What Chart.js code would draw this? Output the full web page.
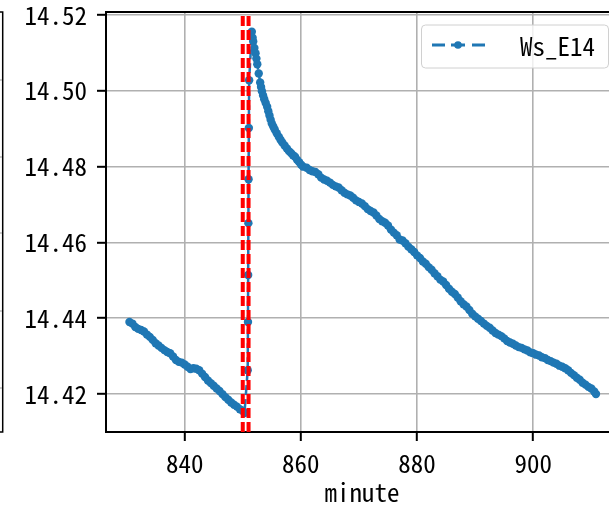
<!DOCTYPE html>
<html>
<head>
<meta charset="utf-8">
<script src="https://cdn.jsdelivr.net/npm/chart.js@4.4.0/dist/chart.umd.min.js"></script>
<style>
  html, body { margin: 0; padding: 0; background: #fff; overflow: hidden; }
  #wrap { width: 609px; height: 506px; overflow: hidden; }
  canvas { display: block; }
</style>
</head>
<body>
<div id="wrap"><canvas id="wsChart" width="622" height="506"></canvas></div>
<script>
// minute stamps and the Ws_E14 readings
const minutes = [
  830.5, 831.0, 831.5, 832.0, 832.5, 833.0, 833.5, 834.0, 834.5, 835.0,
  835.5, 836.0, 836.5, 837.0, 837.5, 838.0, 838.5, 839.0, 839.5, 840.0,
  840.5, 841.0, 841.5, 842.0, 842.5, 843.0, 843.5, 844.0, 844.5, 845.0,
  845.5, 846.0, 846.5, 847.0, 847.5, 848.0, 848.5, 849.0, 849.5, 850.0,
  850.3, 850.85, 850.9, 850.93, 850.97, 851.0, 851.05, 851.1,
  851.56, 851.7, 851.8, 852.0, 852.2, 852.35, 852.5, 852.75, 853.0, 853.15,
  853.3, 853.5, 853.7, 853.95, 854.2, 854.4, 854.6, 854.8, 855.0, 855.25,
  855.5, 855.85, 856.2, 856.5, 856.8, 857.2, 857.6, 857.95, 858.3, 858.65,
  859.0, 859.35, 859.7, 860.05, 860.4,
  861.0, 861.5, 862.0, 862.5, 863.0, 863.5, 864.0, 864.5, 865.0, 865.5,
  866.0, 866.5, 867.0, 867.5, 868.0, 868.5, 869.0, 869.5, 870.0, 870.5,
  871.0, 871.5, 872.0, 872.5, 873.0, 873.5, 874.0, 874.5, 875.0, 875.5,
  876.0, 876.5, 877.0, 877.5, 878.0, 878.5, 879.0, 879.5, 880.0, 880.5,
  881.0, 881.5, 882.0, 882.5, 883.0, 883.5, 884.0, 884.5, 885.0, 885.5,
  886.0, 886.5, 887.0, 887.5, 888.0, 888.5, 889.0, 889.5, 890.0, 890.5,
  891.0, 891.5, 892.0, 892.5, 893.0, 893.5, 894.0, 894.5, 895.0, 895.5,
  896.0, 896.5, 897.0, 897.5, 898.0, 898.5, 899.0, 899.5, 900.0, 900.5,
  901.0, 901.5, 902.0, 902.5, 903.0, 903.5, 904.0, 904.5, 905.0, 905.5,
  906.0, 906.5, 907.0, 907.5, 908.0, 908.5, 909.0, 909.5, 910.0, 910.5, 910.8
];
const wsValues = [
  14.4390, 14.4386, 14.4377, 14.4372, 14.4369, 14.4365, 14.4357, 14.4351, 14.4343, 14.4334,
  14.4328, 14.4322, 14.4316, 14.4311, 14.4308, 14.4299, 14.4290, 14.4285, 14.4283, 14.4278,
  14.4272, 14.4266, 14.4268, 14.4267, 14.4263, 14.4254, 14.4245, 14.4236, 14.4229, 14.4222,
  14.4215, 14.4208, 14.4200, 14.4192, 14.4185, 14.4178, 14.4172, 14.4167, 14.4160, 14.4156,
  14.4150, 14.4263, 14.4390, 14.4514, 14.4651, 14.4767, 14.4902, 14.5028,
  14.5156, 14.5140, 14.5130, 14.5113, 14.5099, 14.5085, 14.5070, 14.5046, 14.5022, 14.5010,
  14.4999, 14.4988, 14.4978, 14.4968, 14.4958, 14.4946, 14.4935, 14.4924, 14.4914, 14.4906,
  14.4898, 14.4888, 14.4879, 14.4871, 14.4864, 14.4856, 14.4848, 14.4841, 14.4836, 14.4830,
  14.4826, 14.4818, 14.4812, 14.4805, 14.4800,
  14.4797, 14.4791, 14.4788, 14.4786, 14.4780, 14.4771, 14.4766, 14.4763, 14.4758, 14.4752,
  14.4748, 14.4745, 14.4738, 14.4731, 14.4727, 14.4724, 14.4718, 14.4711, 14.4707, 14.4703,
  14.4696, 14.4688, 14.4683, 14.4679, 14.4671, 14.4662, 14.4656, 14.4652, 14.4645, 14.4634,
  14.4626, 14.4619, 14.4608, 14.4605, 14.4598, 14.4589, 14.4582, 14.4575, 14.4566, 14.4559,
  14.4550, 14.4544, 14.4535, 14.4528, 14.4519, 14.4511, 14.4502, 14.4497, 14.4488, 14.4478,
  14.4470, 14.4464, 14.4455, 14.4445, 14.4437, 14.4431, 14.4422, 14.4412, 14.4405, 14.4399,
  14.4393, 14.4386, 14.4380, 14.4375, 14.4368, 14.4361, 14.4357, 14.4353, 14.4347, 14.4340,
  14.4336, 14.4333, 14.4328, 14.4324, 14.4322, 14.4318, 14.4315, 14.4310, 14.4308, 14.4304,
  14.4302, 14.4297, 14.4295, 14.4290, 14.4287, 14.4283, 14.4280, 14.4275, 14.4272, 14.4268,
  14.4263, 14.4256, 14.4250, 14.4243, 14.4238, 14.4230, 14.4225, 14.4219, 14.4215, 14.4207, 14.4200
];
const eventMinutes = [850, 851];
const xTicks = [840, 860, 880, 900];
const yTicks = [14.42, 14.44, 14.46, 14.48, 14.50, 14.52];
const seriesLabel = "Ws_E14";
const xTitle = "minute";

const FONT = "'Noto Sans Mono CJK SC', 'DejaVu Sans Mono', monospace";
const BLUE = "#1f77b4";

// red event lines, top spine, cropped neighbour frame and the legend box
const extras = {
  id: "extras",
  afterDatasetsDraw(chart) {
    const { ctx, chartArea: a, scales: { x } } = chart;
    ctx.save();
    ctx.strokeStyle = "#ff0000";
    ctx.lineWidth = 4;
    ctx.setLineDash([10, 4]);
    eventMinutes.forEach((m) => {
      const px = x.getPixelForValue(m);
      ctx.beginPath();
      ctx.moveTo(px, a.bottom);
      ctx.lineTo(px, a.top);
      ctx.stroke();
    });
    ctx.restore();
  },
  afterDraw(chart) {
    const { ctx, chartArea: a } = chart;
    ctx.save();
    // top spine
    ctx.strokeStyle = "#000";
    ctx.lineWidth = 2;
    ctx.beginPath();
    ctx.moveTo(a.left - 1, a.top);
    ctx.lineTo(a.right, a.top);
    ctx.stroke();

    // edge of the neighbouring subplot
    ctx.lineWidth = 1.5;
    ctx.beginPath();
    ctx.moveTo(0, a.top);
    ctx.lineTo(2.7, a.top);
    ctx.lineTo(2.7, a.bottom);
    ctx.lineTo(0, a.bottom);
    ctx.stroke();
    ctx.strokeStyle = "#999";
    ctx.lineWidth = 1;
    [80, 157, 233, 311, 388].forEach((ty) => {
      ctx.beginPath();
      ctx.moveTo(0, ty);
      ctx.lineTo(2, ty);
      ctx.stroke();
    });

    // legend
    const lx = 421.5, ly = 25, lw = 187, lh = 43;
    ctx.fillStyle = "rgba(255,255,255,0.8)";
    ctx.strokeStyle = "#d0d0d0";
    ctx.lineWidth = 1;
    ctx.beginPath();
    ctx.roundRect(lx, ly, lw, lh, 4);
    ctx.fill();
    ctx.stroke();
    ctx.strokeStyle = BLUE;
    ctx.lineWidth = 3.2;
    ctx.beginPath();
    ctx.moveTo(432, 45);
    ctx.lineTo(445, 45);
    ctx.moveTo(472, 45);
    ctx.lineTo(485, 45);
    ctx.moveTo(451, 45);
    ctx.lineTo(465, 45);
    ctx.stroke();
    ctx.fillStyle = BLUE;
    ctx.beginPath();
    ctx.arc(458, 45, 3.8, 0, Math.PI * 2);
    ctx.fill();
    ctx.fillStyle = "#000";
    ctx.font = "25px " + FONT;
    ctx.textBaseline = "middle";
    ctx.textAlign = "left";
    ctx.fillText(seriesLabel, 520, 46);
    ctx.restore();
  },
};

new Chart(document.getElementById("wsChart"), {
  type: "line",
  data: {
    datasets: [
      {
        label: seriesLabel,
        data: minutes.map((m, i) => ({ x: m, y: wsValues[i] })),
        borderColor: BLUE,
        backgroundColor: BLUE,
        borderWidth: 2.5,
        borderDash: [10, 4],
        pointRadius: 4.2,
        pointBorderWidth: 0,
        pointHoverRadius: 0,
        tension: 0,
        fill: false,
      },
    ],
  },
  options: {
    responsive: false,
    animation: false,
    events: [],
    layout: { padding: { top: 12, left: 0, right: 0, bottom: 0 } },
    plugins: { legend: { display: false }, tooltip: { enabled: false } },
    scales: {
      x: {
        type: "linear",
        min: 826.46,
        max: 914.56,
        afterBuildTicks: (s) => { s.ticks = xTicks.map((v) => ({ value: v })); },
        afterFit: (s) => { s.height = 74; s.paddingLeft = 0; s.paddingRight = 0; },
        grid: { color: "#b0b0b0", lineWidth: 1.6, tickColor: "#000", tickLength: 9, tickWidth: 2 },
        border: { color: "#000", width: 2 },
        ticks: { color: "#000", padding: 10, maxRotation: 0, font: { family: FONT, size: 25, lineHeight: 1 } },
        title: { display: true, text: xTitle, color: "#000", padding: { top: 0, bottom: 0 }, font: { family: FONT, size: 25, lineHeight: 1.05 } },
      },
      y: {
        min: 14.41,
        max: 14.5208,
        afterBuildTicks: (s) => { s.ticks = yTicks.map((v) => ({ value: v })); },
        afterFit: (s) => { s.width = 106; s.paddingTop = 0; s.paddingBottom = 0; },
        grid: { color: "#b0b0b0", lineWidth: 1.6, tickColor: "#000", tickLength: 9, tickWidth: 2 },
        border: { color: "#000", width: 2 },
        ticks: {
          color: "#000",
          padding: 10,
          font: { family: FONT, size: 25, lineHeight: 1 },
          callback: (v) => Number(v).toFixed(2),
        },
      },
    },
  },
  plugins: [extras],
});
</script>
</body>
</html>
